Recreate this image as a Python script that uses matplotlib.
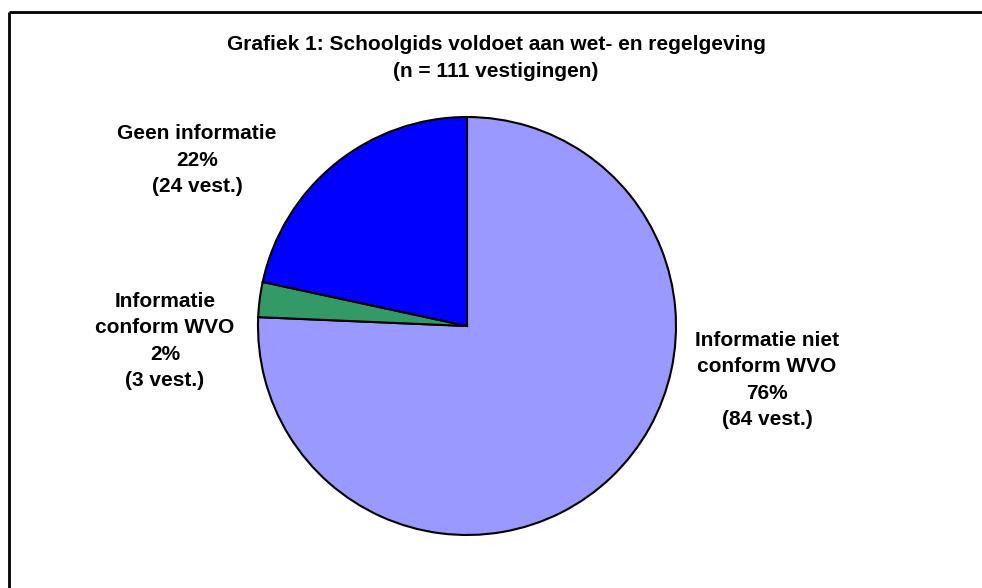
import matplotlib
matplotlib.use("Agg")
from matplotlib import pyplot as plt

# data
labels = ["Informatie niet\nconform WVO", "Informatie\nconform WVO", "Geen informatie"]
counts = [84, 3, 24]
percents = [76, 2, 22]  # as printed in the chart
colors = ["#9999FF", "#339966", "#0000FF"]
title = "Grafiek 1: Schoolgids voldoet aan wet- en regelgeving\n(n = 111 vestigingen)"

plt.rcParams["font.family"] = ["Liberation Sans", "DejaVu Sans"]

W, H = 982, 588
fig = plt.figure(figsize=(W / 100, H / 100), dpi=100)
ax = fig.add_axes([0, 0, 1, 1])
ax.axis("off")

# frame (only top and left visible in the reference)
ax.plot([9, W], [H - 12, H - 12], color="black", lw=2, solid_capstyle="butt")
ax.plot([9, 9], [0, H - 12], color="black", lw=2, solid_capstyle="butt")

ax.pie(counts, colors=colors, startangle=90, counterclock=False,
       center=(467, H - 326), radius=209,
       wedgeprops=dict(edgecolor="black", linewidth=1.5))
ax.set_xlim(0, W)
ax.set_ylim(0, H)
ax.set_aspect("equal")

label_pos = [(767, H - 380), (165, H - 341), (197, H - 160)]
for lab, c, p, (x, y) in zip(labels, counts, percents, label_pos):
    txt = "%s\n%d%%\n(%d vest.)" % (lab, p, c)
    ax.text(x, y, txt, ha="center", va="center", fontsize=15,
            fontweight="bold", linespacing=1.47)

ax.text(496, H - 58, title, ha="center", va="center", fontsize=15,
        fontweight="bold", linespacing=1.55)

fig.savefig("out.png", dpi=100)
